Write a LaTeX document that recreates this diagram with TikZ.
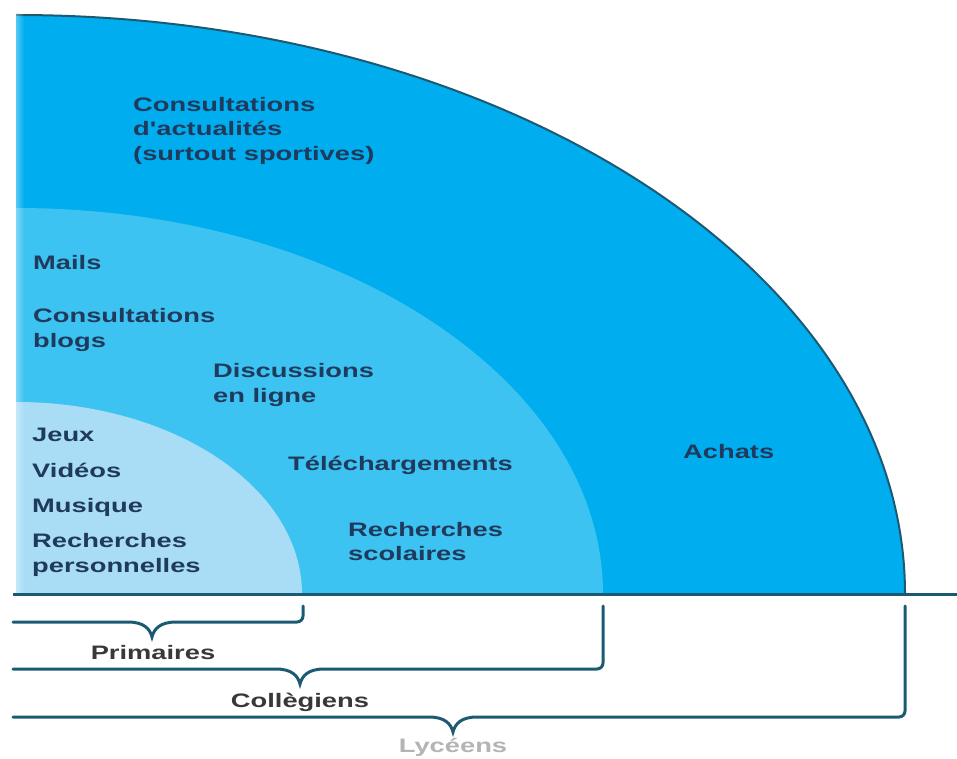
\documentclass[tikz,border=0pt]{standalone}
\usepackage{fontspec}
\newfontfamily\labelfont{Liberation Sans}[FakeStretch=1.4]
\usetikzlibrary{positioning}
\usetikzlibrary{fadings}

\definecolor{outerblue}{HTML}{00AEEF}
\definecolor{midblue}{HTML}{3DC3F1}
\definecolor{innerblue}{HTML}{A9DDF6}
\definecolor{rimcol}{HTML}{1C5A73}
\definecolor{itemcol}{HTML}{1F3A5C}
\definecolor{groupcol}{HTML}{383838}
\definecolor{fadedcol}{HTML}{B4B4B4}

\tikzset{
  item/.style={anchor=west,inner sep=0pt,align=left,text=itemcol,
    font=\labelfont\bfseries\fontsize{19.5}{24.5}\selectfont},
  grouplabel/.style={inner sep=0pt,text=groupcol,
    font=\labelfont\bfseries\fontsize{19.5}{24.5}\selectfont},
  bracket/.style={draw=rimcol,line width=3pt,line cap=round}
}

\begin{document}
\begin{tikzpicture}[x=1pt,y=1pt]
\useasboundingbox (0,0) rectangle (957,758);

% quarter ellipses
\fill[outerblue] (16,164) -- (905,164)
  arc[start angle=0,end angle=90,x radius=889,y radius=579] -- cycle;
\draw[rimcol,line width=2pt] (905,164)
  arc[start angle=0,end angle=90,x radius=889,y radius=579];
\fill[midblue] (16,164) -- (603,164)
  arc[start angle=0,end angle=90,x radius=587,y radius=386] -- cycle;
\fill[innerblue] (16,164) -- (302,164)
  arc[start angle=0,end angle=90,x radius=286,y radius=192] -- cycle;
\fill[white,path fading=east] (0,150) rectangle (24,758);

% ground line
\coordinate (g0) at (13,164);
\coordinate (g1) at (957,164);
\draw[rimcol,line width=3pt] (g0) -- (g1);

% items
\node[item] (actu) at (133,627.5) {Consultations\\d'actualités\\(surtout sportives)};
\node[item] (mails) at (33,495) {Mails};
\node[item] (blogs) at (33,428) {Consultations\\blogs};
\node[item] (discu) at (213,373) {Discussions\\en ligne};
\node[item] (jeux) at (32,323) {Jeux};
\node[item] (videos) at (32,288) {Vidéos};
\node[item] (musique) at (32,251) {Musique};
\node[item] (perso) at (32,203) {Recherches\\personnelles};
\node[item] (telech) at (288,293) {Téléchargements};
\node[item] (scol) at (348,216.5) {Recherches\\scolaires};
\node[item] (achats) at (683,306) {Achats};

% brackets
\coordinate (ptip) at (152,121);
\coordinate (ctip) at (300,74);
\coordinate (ltip) at (453,26);
\draw[bracket] (13,136) -- (128,136)
  .. controls (144,136) and (150,129) .. (ptip)
  .. controls (154,129) and (160,136) .. (176,136)
  [rounded corners=6pt] -- (303,136) -- (303,152);
\draw[bracket] (13,89) -- (276,89)
  .. controls (292,89) and (298,82) .. (ctip)
  .. controls (302,82) and (308,89) .. (324,89)
  [rounded corners=6pt] -- (603,89) -- (603,152);
\draw[bracket] (13,41) -- (429,41)
  .. controls (445,41) and (451,34) .. (ltip)
  .. controls (455,34) and (461,41) .. (477,41)
  [rounded corners=6pt] -- (905,41) -- (905,152);

\node[grouplabel] (prim) at (153,105) {Primaires};
\node[grouplabel] (coll) at (300,56) {Collègiens};
\node[grouplabel,text=fadedcol] (lyc) at (453,11) {Lycéens};
\end{tikzpicture}
\end{document}
